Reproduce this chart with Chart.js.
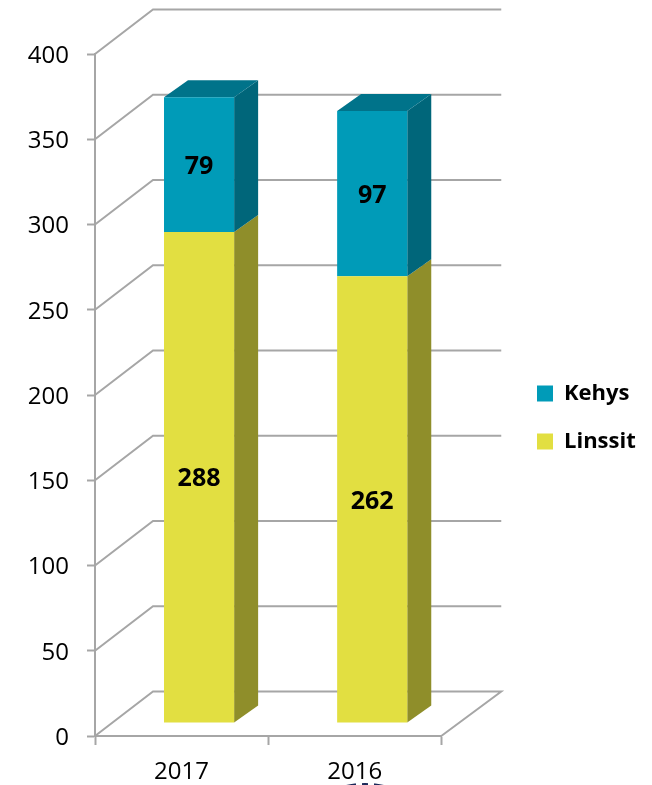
<!DOCTYPE html>
<html><head><meta charset="utf-8">
<style>html,body{margin:0;padding:0;background:#fff}canvas{display:block}</style>
<script src="https://cdn.jsdelivr.net/npm/chart.js@4"></script></head>
<body><canvas id="c" width="652" height="785"></canvas>
<script>
const categories = ['2017','2016'];
const linssit = [288,262];
const kehys = [79,97];
const yTicks = [0,50,100,150,200,250,300,350,400];
const FONT = '"Open Sans"';
const GRID = '#a6a6a6';
const faces = {
  Kehys:{front:'#009bb8',side:'#00667a',top:'#00738a'},
  Linssit:{front:'#e2df41',side:'#8f8e2a',top:'#a9a732'}
};
const wall = {dx:58,dy:-44.5,right:60};
const barShift = {x:17.5,y:-13};
const depth = {x:24,y:-17};

function poly(ctx,pts,fill){
  ctx.beginPath();pts.forEach((p,i)=>i?ctx.lineTo(p[0],p[1]):ctx.moveTo(p[0],p[1]));ctx.closePath();
  ctx.fillStyle=fill;ctx.fill();
}
const threeD = {
  id:'threeD',
  afterLayout(chart){
    const l=chart.legend;
    l.left=511;l.right=652;l.top-=2;l.bottom-=2;
  },
  beforeDatasetsDraw(chart){
    const {ctx,scales:{x,y}}=chart;
    const L=x.left,R=x.right;
    ctx.save();ctx.strokeStyle=GRID;ctx.lineWidth=2;ctx.lineJoin='miter';
    yTicks.forEach(v=>{
      const py=y.getPixelForValue(v);
      ctx.beginPath();ctx.moveTo(L,py);ctx.lineTo(L+wall.dx,py+wall.dy);ctx.lineTo(R+wall.right,py+wall.dy);
      if(v===0){ctx.lineTo(R,py);}
      ctx.stroke();
    });
    ctx.restore();
    ctx.save();ctx.translate(barShift.x,barShift.y);
    chart.data.datasets.forEach((ds,di)=>{
      chart.getDatasetMeta(di).data.forEach(el=>{
        const r=el.x+el.width/2,l=el.x-el.width/2,t=el.y,b=el.base,f=faces[ds.label];
        poly(ctx,[[r,t],[r+depth.x,t+depth.y],[r+depth.x,b+depth.y],[r,b]],f.side);
        if(di===chart.data.datasets.length-1)
          poly(ctx,[[l,t],[l+depth.x,t+depth.y],[r+depth.x,t+depth.y],[r,t]],f.top);
      });
    });
    ctx.restore();
    ctx.save();ctx.translate(barShift.x,barShift.y);
  },
  afterDatasetsDraw(chart){
    const {ctx}=chart;
    ctx.textAlign='center';ctx.textBaseline='middle';ctx.fillStyle='#000';
    ctx.font='bold 25px '+FONT;
    chart.data.datasets.forEach((ds,di)=>{
      chart.getDatasetMeta(di).data.forEach((el,i)=>{
        ctx.fillText(String(ds.data[i]),el.x,(el.y+el.base)/2+2);
      });
    });
    ctx.restore();
    // cut-off logo fragment at the page's lower edge
    ctx.save();
    ctx.fillStyle='#1c2a5a';
    ctx.beginPath();ctx.ellipse(365,790,27,7,0,0,Math.PI*2);ctx.fill();
    ctx.fillStyle='#fff';
    ctx.fillRect(356,780,6,6);ctx.fillRect(368,780,6,6);
    ctx.restore();
  }
};
new Chart(document.getElementById('c'),{
  type:'bar',
  data:{labels:categories,datasets:[
    {label:'Linssit',data:linssit,backgroundColor:faces.Linssit.front,stack:'s'},
    {label:'Kehys',data:kehys,backgroundColor:faces.Kehys.front,stack:'s'}
  ]},
  options:{
    responsive:false,animation:false,
    layout:{padding:{top:54,left:0,right:76,bottom:0}},
    datasets:{bar:{categoryPercentage:0.405,barPercentage:1,borderWidth:0}},
    plugins:{
      tooltip:{enabled:false},
      legend:{position:'right',reverse:true,
        labels:{boxWidth:16,boxHeight:16,padding:26,color:'#000',font:{family:FONT,size:22,weight:'700'}}}
    },
    scales:{
      x:{stacked:true,
        afterFit(s){s.height=49;},
        border:{display:true,color:GRID,width:2},
        grid:{drawOnChartArea:false,drawTicks:true,tickLength:9,tickColor:GRID,tickWidth:2},
        ticks:{color:'#000',padding:13,maxRotation:0,font:{family:FONT,size:24}}},
      y:{stacked:true,min:0,max:400,
        afterFit(s){s.width=95;},
        afterBuildTicks(s){s.ticks=yTicks.map(v=>({value:v}));},
        border:{display:true,color:GRID,width:2},
        grid:{drawOnChartArea:false,drawTicks:true,tickLength:8,tickColor:GRID,tickWidth:2},
        ticks:{color:'#000',padding:18,labelOffset:2,font:{family:FONT,size:24}}}
    }
  },
  plugins:[threeD]
});
</script></body></html>
